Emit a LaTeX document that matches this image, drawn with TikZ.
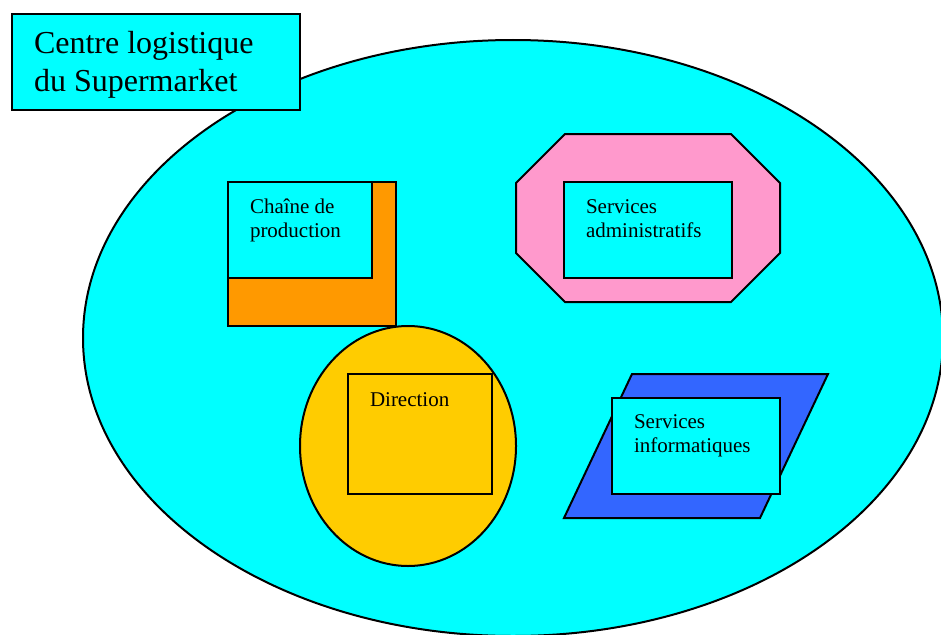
\documentclass[tikz,border=0pt]{standalone}
\usepackage{fontspec}
\setmainfont{Liberation Serif}
\definecolor{cyanfill}{HTML}{00FFFF}
\definecolor{orangefill}{HTML}{FF9900}
\definecolor{pinkfill}{HTML}{FF99CC}
\definecolor{yellowfill}{HTML}{FFCC00}
\definecolor{bluefill}{HTML}{3366FF}

\begin{document}
\begin{tikzpicture}[x=1pt,y=-1pt,line width=2pt,
  panel/.style={draw,fill=cyanfill},
  smalltext/.style={anchor=base west,inner sep=0pt,align=left,font=\fontsize{21}{24}\selectfont}]
\useasboundingbox (0,0) rectangle (941,634);
% centre logistique
\draw[fill=cyanfill] (513,338) ellipse [x radius=430,y radius=298];
\draw[panel] (12,14) rectangle (300,110);
\node[anchor=base west,inner sep=0pt,align=left,font=\fontsize{32}{37}\selectfont] (titre) at (33,91) {Centre logistique\\du Supermarket};

% production
\draw[fill=orangefill] (228,182) rectangle (396,326);
\draw[panel] (228,182) rectangle (372,278);
\node[smalltext] (prod) at (249,237) {Chaîne de\\production};

% administratifs
\draw[fill=pinkfill] (565,134) -- (731,134) -- (780,183) -- (780,253) -- (731,302)
  -- (565,302) -- (516,253) -- (516,183) -- cycle;
\draw[panel] (564,182) rectangle (732,278);
\node[smalltext] (admin) at (585,237) {Services\\administratifs};

% direction
\draw[fill=yellowfill] (408,446) ellipse [x radius=108,y radius=120];
\draw (348,374) rectangle (492,494);
\node[smalltext] (dir) at (369,406) {Direction};

% informatique
\draw[fill=bluefill] (632,374) -- (828,374) -- (760,518) -- (564,518) -- cycle;
\draw[panel] (612,398) rectangle (780,494);
\node[smalltext] (info) at (633,452) {Services\\informatiques};
\end{tikzpicture}
\end{document}
